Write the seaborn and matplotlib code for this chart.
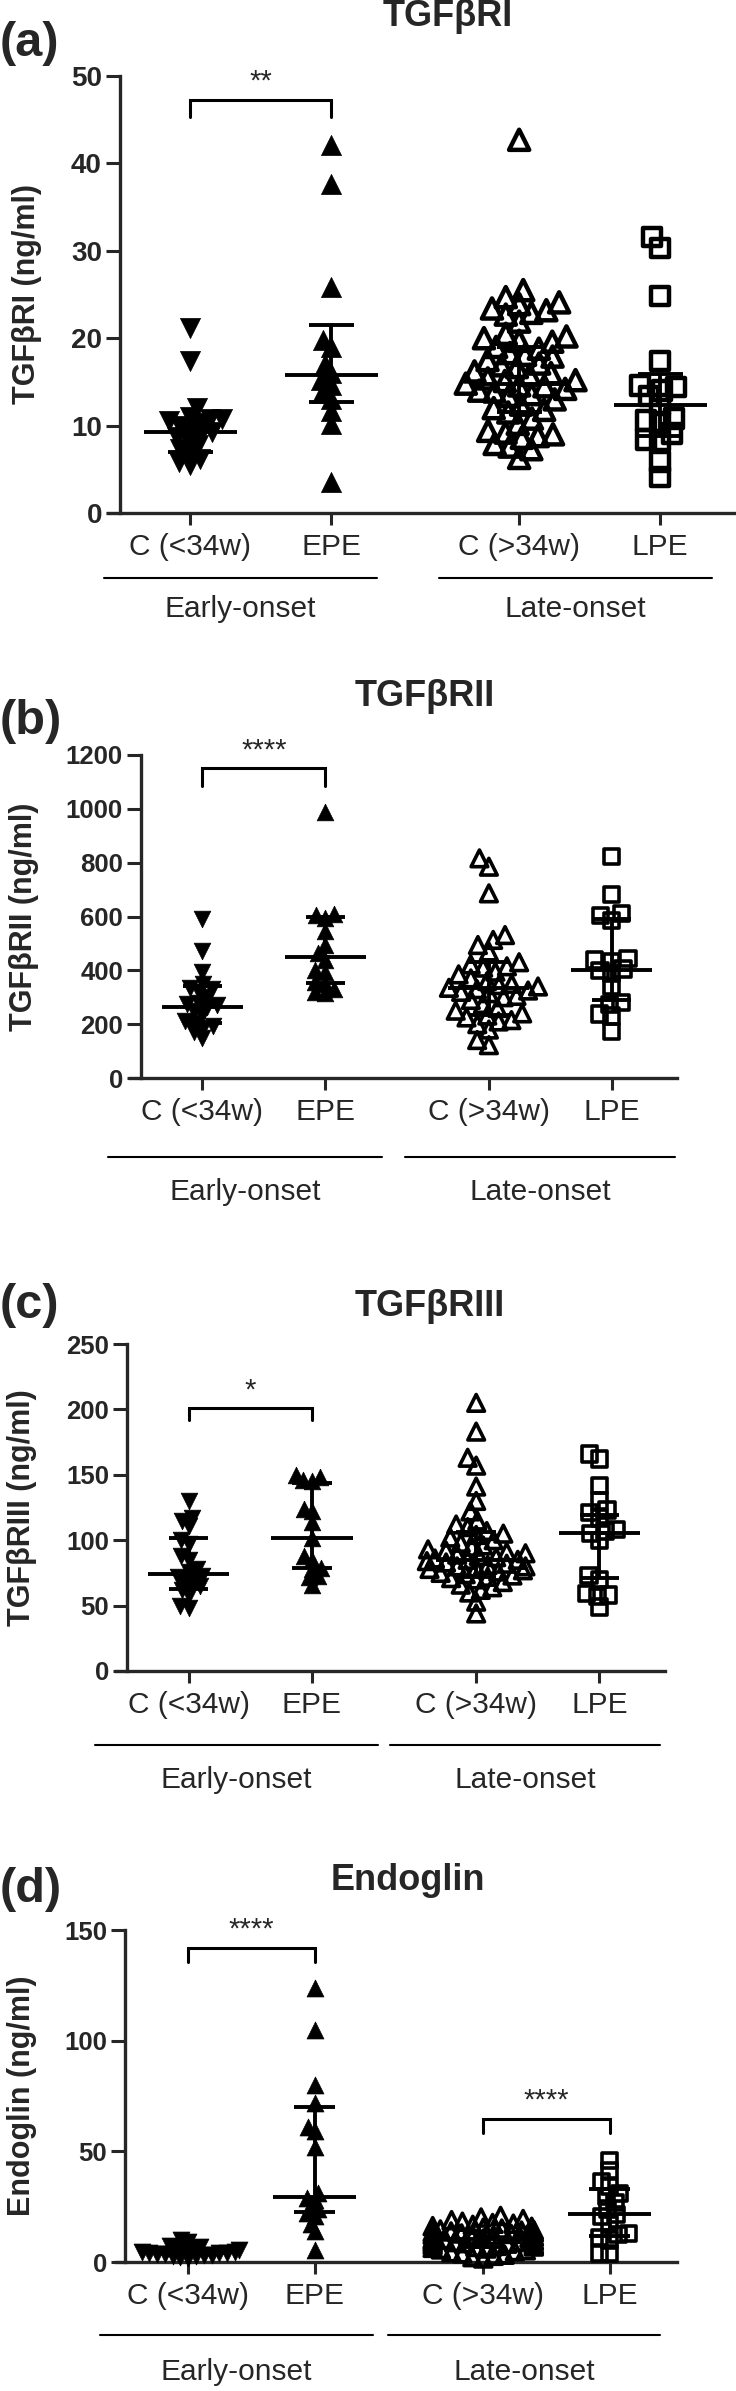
import numpy as np
import pandas as pd
import matplotlib
matplotlib.use("Agg")
import matplotlib.pyplot as plt
import seaborn as sns

# ---------------- data ----------------
groups = ["C (<34w)", "EPE", "C (>34w)", "LPE"]
group_pos = [0.0, 1.0, 2.333, 3.333]
onsets = ["Early-onset", "Late-onset"]

# (a) TGFbRI
a_c_early = [21.2, 17.4, 12.0, 11.0, 10.8, 10.7, 10.5, 10.3, 10.0, 9.6, 9.3, 9.0, 8.7, 8.3, 7.8, 7.3, 6.9, 6.2, 5.8, 5.5]
a_epe = [42.1, 37.7, 25.9, 19.8, 19.0, 17.0, 16.0, 15.2, 14.6, 13.7, 13.0, 11.7, 10.2, 3.6]
a_c_late = [42.7, 25.5, 24.7, 24.1, 23.9, 23.4, 23.2, 22.9, 22.7, 21.9, 20.5, 20.2, 20.0, 19.7, 19.6,
            19.0, 18.8, 18.3, 18.1, 17.9, 17.5, 17.1, 16.9, 16.7, 16.2, 16.0, 15.8, 15.4, 15.2, 15.1,
            14.8, 14.6, 14.5, 14.2, 14.0, 13.9, 13.6, 13.4, 13.0, 12.4, 12.0, 11.8, 11.5, 10.8, 10.2,
            9.4, 9.2, 9.0, 8.8, 8.6, 7.9, 7.6, 7.3, 6.3]
a_lpe = [31.6, 30.3, 24.8, 17.4, 14.6, 14.4, 14.0, 13.4, 12.4, 10.8, 10.6, 10.4, 9.1, 8.4, 8.2, 5.9, 4.1]
a_median = [9.3, 15.8, 14.8, 12.3]
a_q1 = [7.0, 12.7, 11.6, 8.8]
a_q3 = [10.5, 21.5, 19.0, 15.9]

# (b) TGFbRII
b_c_early = [590, 470, 395, 350, 335, 330, 320, 300, 280, 275, 270, 265, 250, 235, 210, 205, 195, 185, 170, 150]
b_epe = [990, 610, 605, 595, 545, 495, 465, 440, 400, 395, 355, 350, 330, 320, 315]
b_c_late = [816, 785, 686, 531, 513, 494, 470, 430, 422, 415, 410, 395, 385, 370, 360, 350, 345, 340, 335,
            330, 325, 320, 315, 305, 300, 290, 275, 260, 250, 240, 232, 225, 215, 210, 200, 180, 141, 122]
b_lpe = [823, 681, 611, 605, 586, 444, 438, 432, 405, 400, 389, 339, 280, 272, 238, 230, 172]
b_median = [265, 448, 333, 401]
b_q1 = [205, 352, 235, 290]
b_q3 = [340, 600, 430, 590]

# (c) TGFbRIII
c_c_early = [130, 117, 115, 111, 100, 97, 88, 85, 78, 76, 73, 72, 70, 68, 65, 64, 62, 58, 50, 48]
c_epe = [150, 148, 146, 145, 124, 122, 114, 102, 88, 85, 79, 78, 73, 72, 66]
c_c_late = [205, 183, 163, 157, 141, 130, 122, 115, 112, 110, 107, 105, 104, 102, 100, 98, 96, 95, 93,
            92, 91, 90, 89, 88, 87, 86, 85, 85, 84, 83, 82, 81, 80, 80, 79, 78, 77, 76, 75, 74, 73, 72,
            71, 70, 68, 66, 64, 62, 60, 53, 44]
c_lpe = [166, 162, 142, 130, 123, 121, 117, 108, 107, 105, 100, 73, 70, 59, 58, 57, 49]
c_median = [74, 102, 85, 105.6]
c_q1 = [63, 78.5, 72, 71]
c_q3 = [102, 144, 106, 119]

# (d) Endoglin
d_c_early = [9.8, 9.1, 7.4, 6.6, 6.1, 5.7, 5.3, 5.1, 4.7, 4.6, 4.2, 4.0, 3.9, 3.6, 3.5, 3.2, 3.0, 2.9, 2.6, 2.3, 2.0]
d_epe = [124, 105, 80, 72, 61, 59, 52, 31, 29, 28, 25, 24, 22, 21, 17, 14, 5.5]
d_c_late = [20.8, 20.1, 19.4, 18.9, 18.2, 17.6, 17.3, 16.8, 16.2, 15.9, 15.5, 15.1, 14.7, 14.4, 14.2, 13.8,
            13.5, 13.3, 12.9, 12.7, 12.4, 12.2, 11.9, 11.6, 11.4, 11.1, 10.9, 10.6, 10.4, 10.2, 9.9, 9.7,
            9.5, 9.2, 9.0, 8.8, 8.5, 8.3, 8.1, 7.8, 7.6, 7.3, 7.0, 6.8, 6.4, 6.1, 5.7, 5.3, 4.9, 4.4,
            3.9, 3.3, 2.8, 2.2, 1.6]
d_lpe = [46, 41.5, 36.5, 34, 31, 29.5, 27, 24, 21.5, 20.5, 18, 13, 12.5, 11, 10, 4, 3.8]
d_median = [3.9, 29.4, 10.5, 21.5]
d_q1 = [3.0, 22.4, 7.0, 11.8]
d_q3 = [5.0, 69.9, 13.5, 33.0]

# significance brackets: (stars, left group, right group, height)
a_sig = [("**", 0, 1, 47.3)]
b_sig = [("****", 0, 1, 1150)]
c_sig = [("*", 0, 1, 200.8)]
d_sig = [("****", 0, 1, 142), ("****", 2, 3, 64.6)]

# ---------------- style ----------------
sns.set_style("ticks")
plt.rcParams["font.family"] = ["Liberation Sans", "DejaVu Sans"]

W, H = 736, 2391
fig = plt.figure(figsize=(W / 100, H / 100), dpi=100)

markers = [("v", True), ("^", True), ("^", False), ("s", False)]
XL, XR = -0.5, 3.865

panels = [
    dict(letter="(a)", title="TGFβRI", ylabel="TGFβRI (ng/ml)",
         data=[a_c_early, a_epe, a_c_late, a_lpe], med=a_median, q1=a_q1, q3=a_q3, sig=a_sig,
         ymax=50, ystep=10, box=(108, 120, 735, 76, 513), title_xy=(448, 16), letter_y=43, ylab_x=27,
         line_y=578, text_y=609, early=(104, 377), late=(439, 712),
         msize=14.5, ssize=13.2, olw=3.2, ytfs=20, legh=2.0, collide=0.5),
    dict(letter="(b)", title="TGFβRII", ylabel="TGFβRII (ng/ml)",
         data=[b_c_early, b_epe, b_c_late, b_lpe], med=b_median, q1=b_q1, q3=b_q3, sig=b_sig,
         ymax=1200, ystep=200, box=(130, 141, 677, 755, 1078), title_xy=(425, 696), letter_y=722, ylab_x=24,
         line_y=1157, text_y=1192, early=(108, 382), late=(405, 675),
         msize=12.0, ssize=11.0, olw=2.6, ytfs=18.5, legh=65, collide=0.52),
    dict(letter="(c)", title="TGFβRIII", ylabel="TGFβRIII (ng/ml)",
         data=[c_c_early, c_epe, c_c_late, c_lpe], med=c_median, q1=c_q1, q3=c_q3, sig=c_sig,
         ymax=250, ystep=50, box=(116, 127, 665, 1344, 1671), title_xy=(430, 1307), letter_y=1305, ylab_x=22,
         line_y=1745, text_y=1780, early=(95, 378), late=(390, 660),
         msize=12.0, ssize=11.0, olw=2.6, ytfs=18.5, legh=8.8, collide=0.46),
    dict(letter="(d)", title="Endoglin", ylabel="Endoglin (ng/ml)",
         data=[d_c_early, d_epe, d_c_late, d_lpe], med=d_median, q1=d_q1, q3=d_q3, sig=d_sig,
         ymax=150, ystep=50, box=(116, 125, 677, 1930, 2262), title_xy=(408, 1880), letter_y=1890, ylab_x=22,
         line_y=2335, text_y=2372, early=(100, 373), late=(388, 660),
         msize=12.2, ssize=11.0, olw=2.6, ytfs=18.5, legh=6.5, collide=0.4),
]


def draw_group(ax, values, xpos, marker, filled, msize, lw, collide):
    df = pd.DataFrame({"pos": np.full(len(values), xpos, dtype=float),
                       "val": np.asarray(values, dtype=float)})
    n0 = len(ax.collections)
    sns.swarmplot(data=df, x="pos", y="val", native_scale=True, orient="x", ax=ax,
                  marker=marker, size=msize, color="black", edgecolor="black",
                  linewidth=(0.5 if filled else lw), warn_thresh=1.0, zorder=3)
    coll = ax.collections[n0]
    if not filled:
        coll.set_facecolor("none")
    # let the markers overlap a little, as in the original column scatter
    pack = (collide * msize) ** 2
    coll.get_sizes = (lambda p=pack: np.array([p]))
    coll.set_clip_on(False)


for p in panels:
    l0, s, r, t, b = p["box"]
    unit = (r - s) / (XR - XL)
    xl = XL - (s - l0) / unit
    ax = fig.add_axes([l0 / W, 1 - b / H, (r - l0) / W, (b - t) / H])
    for gi, vals in enumerate(p["data"]):
        mk, filled = markers[gi]
        size = p["ssize"] if mk == "s" else p["msize"]
        draw_group(ax, vals, group_pos[gi], mk, filled, size, p["olw"], p["collide"])

    # median with interquartile range
    for gi, x in enumerate(group_pos):
        ax.vlines(x, p["q1"][gi], p["q3"][gi], color="black", lw=2.8, zorder=4, clip_on=False)
        ax.hlines([p["q1"][gi], p["q3"][gi]], x - 0.16, x + 0.16, color="black", lw=2.8, zorder=4,
                  clip_on=False)
        ax.hlines(p["med"][gi], x - 0.33, x + 0.33, color="black", lw=2.8, zorder=4, clip_on=False)

    # significance brackets
    for stars, g0, g1, yb in p["sig"]:
        x0, x1 = group_pos[g0], group_pos[g1]
        ax.plot([x0, x0, x1, x1], [yb - p["legh"], yb, yb, yb - p["legh"]], color="black",
                lw=2.2, clip_on=False, zorder=5, solid_joinstyle="miter")
        ax.annotate(stars, xy=((x0 + x1) / 2, yb), xytext=(0, 3), textcoords="offset points",
                    ha="center", va="bottom", fontsize=21, clip_on=False)

    ax.set_xlim(xl, XR)
    ax.set_ylim(0, p["ymax"])
    ax.spines["left"].set_position(("data", XL))
    yt = np.arange(0, p["ymax"] + 1, p["ystep"])
    ax.set_yticks(yt)
    ax.set_yticklabels([str(int(v)) for v in yt], fontweight="bold", fontsize=p["ytfs"])
    ax.set_xticks(group_pos)
    ax.set_xticklabels(groups, fontsize=21.5)
    ax.set_xlabel("")
    ax.set_ylabel("")
    sns.despine(ax=ax)
    for sp in ("left", "bottom"):
        ax.spines[sp].set_linewidth(2.4)
    ax.tick_params(axis="y", length=10, width=2.2, pad=3, direction="out")
    ax.tick_params(axis="x", length=8.5, width=2.2, pad=6, direction="out")
    ax.patch.set_alpha(0)

    # texts outside axes
    fig.text(p["title_xy"][0] / W, 1 - p["title_xy"][1] / H, p["title"], ha="center", va="center",
             fontsize=26, fontweight="bold")
    fig.text(0 / W, 1 - p["letter_y"] / H, p["letter"], ha="left", va="center", fontsize=35,
             fontweight="bold")
    fig.text(p["ylab_x"] / W, 1 - ((t + b) / 2) / H, p["ylabel"], ha="center", va="center",
             rotation=90, fontsize=22, fontweight="bold")
    for (x0, x1), name in zip([p["early"], p["late"]], onsets):
        fig.add_artist(plt.Line2D([x0 / W, x1 / W], [1 - p["line_y"] / H] * 2, color="black", lw=1.5,
                                  transform=fig.transFigure))
        fig.text((x0 + x1) / 2 / W, 1 - p["text_y"] / H, name, ha="center", va="center", fontsize=21.5)

fig.savefig("out.png", dpi=100)
